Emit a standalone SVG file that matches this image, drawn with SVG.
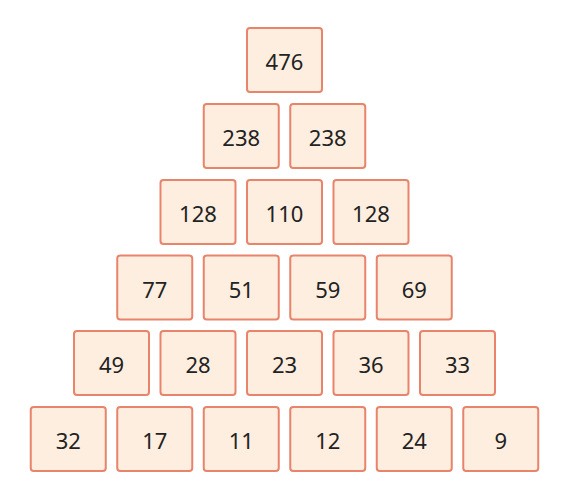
<svg xmlns="http://www.w3.org/2000/svg" width="567" height="491" viewBox="0 0 567 491">
<style>
.b rect{fill:#FDEEDF;stroke:#E8846C;stroke-width:2}
.b text{font-family:"Noto Sans","Open Sans","DejaVu Sans",sans-serif;font-size:22px;fill:#222;text-anchor:middle;dominant-baseline:central}
</style>
<rect width="567" height="491" fill="#fff"/>
<g id="connectors"/>
<g id="n0" class="b"><rect x="247" y="28" width="75" height="64" rx="3"/><text x="284.5" y="61">476</text></g>
<g id="n1" class="b"><rect x="203.75" y="104" width="75" height="64" rx="3"/><text x="241.25" y="137">238</text></g>
<g id="n2" class="b"><rect x="290.25" y="104" width="75" height="64" rx="3"/><text x="327.75" y="137">238</text></g>
<g id="n3" class="b"><rect x="160.5" y="180" width="75" height="64" rx="3"/><text x="198" y="213">128</text></g>
<g id="n4" class="b"><rect x="247" y="180" width="75" height="64" rx="3"/><text x="284.5" y="213">110</text></g>
<g id="n5" class="b"><rect x="333.5" y="180" width="75" height="64" rx="3"/><text x="371" y="213">128</text></g>
<g id="n6" class="b"><rect x="117.25" y="255.5" width="75" height="64" rx="3"/><text x="154.75" y="288.5">77</text></g>
<g id="n7" class="b"><rect x="203.75" y="255.5" width="75" height="64" rx="3"/><text x="241.25" y="288.5">51</text></g>
<g id="n8" class="b"><rect x="290.25" y="255.5" width="75" height="64" rx="3"/><text x="327.75" y="288.5">59</text></g>
<g id="n9" class="b"><rect x="376.75" y="255.5" width="75" height="64" rx="3"/><text x="414.25" y="288.5">69</text></g>
<g id="n10" class="b"><rect x="74" y="331" width="75" height="64" rx="3"/><text x="111.5" y="364">49</text></g>
<g id="n11" class="b"><rect x="160.5" y="331" width="75" height="64" rx="3"/><text x="198" y="364">28</text></g>
<g id="n12" class="b"><rect x="247" y="331" width="75" height="64" rx="3"/><text x="284.5" y="364">23</text></g>
<g id="n13" class="b"><rect x="333.5" y="331" width="75" height="64" rx="3"/><text x="371" y="364">36</text></g>
<g id="n14" class="b"><rect x="420" y="331" width="75" height="64" rx="3"/><text x="457.5" y="364">33</text></g>
<g id="n15" class="b"><rect x="30.75" y="407" width="75" height="64" rx="3"/><text x="68.25" y="440">32</text></g>
<g id="n16" class="b"><rect x="117.25" y="407" width="75" height="64" rx="3"/><text x="154.75" y="440">17</text></g>
<g id="n17" class="b"><rect x="203.75" y="407" width="75" height="64" rx="3"/><text x="241.25" y="440">11</text></g>
<g id="n18" class="b"><rect x="290.25" y="407" width="75" height="64" rx="3"/><text x="327.75" y="440">12</text></g>
<g id="n19" class="b"><rect x="376.75" y="407" width="75" height="64" rx="3"/><text x="414.25" y="440">24</text></g>
<g id="n20" class="b"><rect x="463.25" y="407" width="75" height="64" rx="3"/><text x="500.75" y="440">9</text></g>
</svg>
